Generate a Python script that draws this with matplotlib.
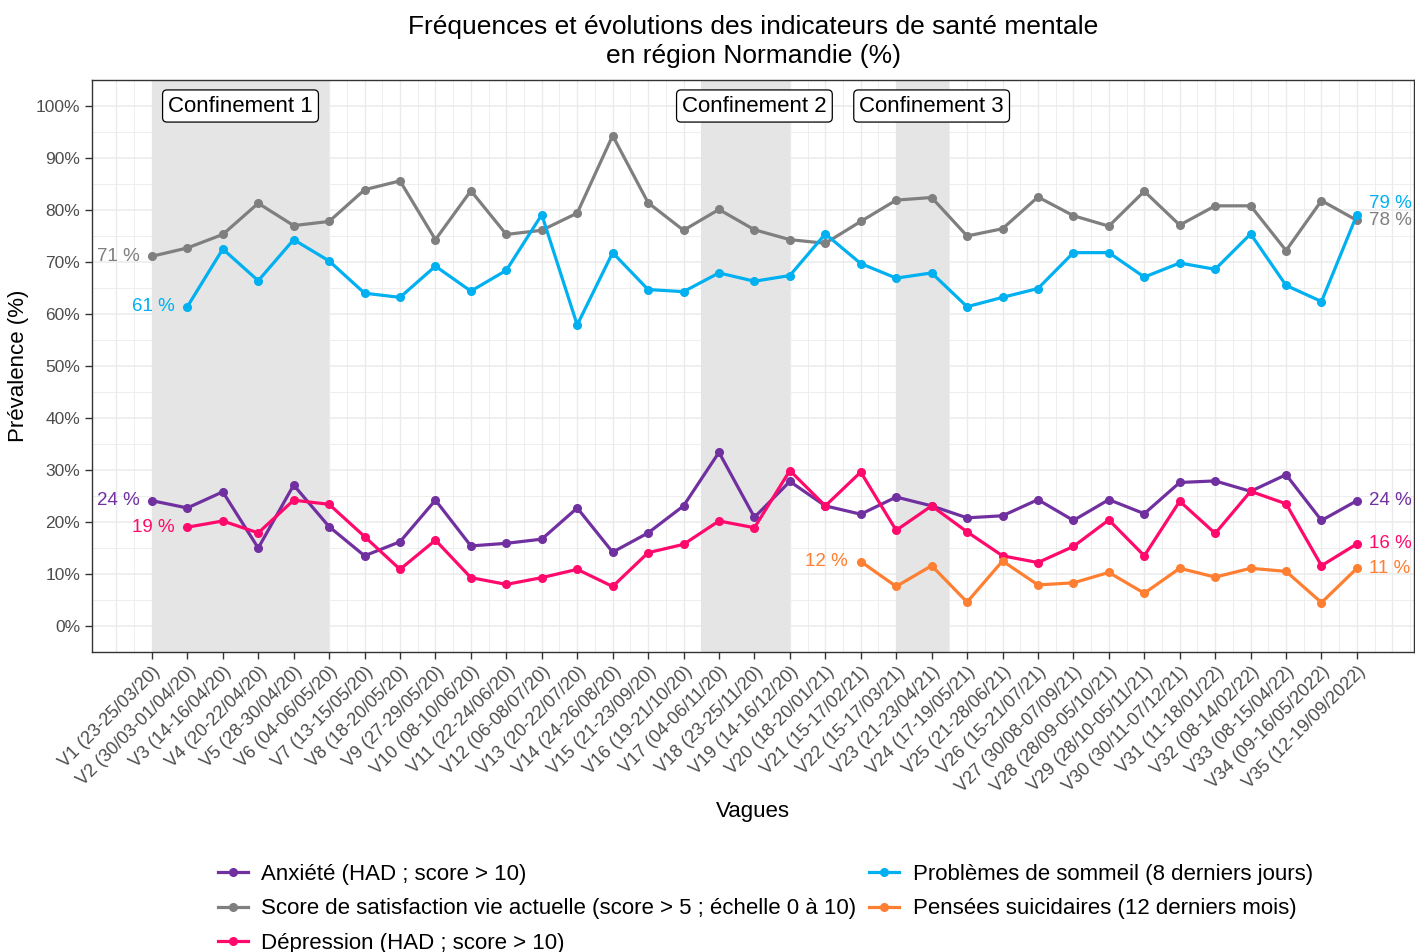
import matplotlib
matplotlib.use("Agg")
import matplotlib.pyplot as plt
from matplotlib.lines import Line2D
import numpy as np

plt.rcParams['font.family'] = ['Liberation Sans', 'DejaVu Sans']

waves = ["V1 (23-25/03/20)", "V2 (30/03-01/04/20)", "V3 (14-16/04/20)", "V4 (20-22/04/20)",
         "V5 (28-30/04/20)", "V6 (04-06/05/20)", "V7 (13-15/05/20)", "V8 (18-20/05/20)",
         "V9 (27-29/05/20)", "V10 (08-10/06/20)", "V11 (22-24/06/20)", "V12 (06-08/07/20)",
         "V13 (20-22/07/20)", "V14 (24-26/08/20)", "V15 (21-23/09/20)", "V16 (19-21/10/20)",
         "V17 (04-06/11/20)", "V18 (23-25/11/20)", "V19 (14-16/12/20)", "V20 (18-20/01/21)",
         "V21 (15-17/02/21)", "V22 (15-17/03/21)", "V23 (21-23/04/21)", "V24 (17-19/05/21)",
         "V25 (21-28/06/21)", "V26 (15-21/07/21)", "V27 (30/08-07/09/21)", "V28 (28/09-05/10/21)",
         "V29 (28/10-05/11/21)", "V30 (30/11-07/12/21)", "V31 (11-18/01/22)", "V32 (08-14/02/22)",
         "V33 (08-15/04/22)", "V34 (09-16/05/2022)", "V35 (12-19/09/2022)"]

nan = np.nan
anxiete = [24.1, 22.7, 25.8, 15.0, 27.1, 19.1, 13.5, 16.2, 24.2, 15.4, 15.9, 16.7,
           22.7, 14.2, 17.9, 23.1, 33.4, 20.9, 27.8, 23.1, 21.5, 24.8, 23.1, 20.8,
           21.2, 24.3, 20.3, 24.3, 21.6, 27.6, 27.9, 25.9, 29.1, 20.3, 24.1]
satisfaction = [71.1, 72.7, 75.3, 81.3, 77.0, 77.8, 83.9, 85.6, 74.3, 83.7, 75.3, 76.1,
                79.4, 94.3, 81.4, 76.1, 80.1, 76.2, 74.3, 73.6, 77.8, 81.9, 82.4, 75.0,
                76.4, 82.5, 78.9, 76.9, 83.6, 77.1, 80.8, 80.8, 72.2, 81.8, 78.0]
depression = [nan, 19.0, 20.2, 17.9, 24.2, 23.4, 17.2, 10.9, 16.5, 9.3, 8.0, 9.3,
              10.9, 7.6, 14.1, 15.7, 20.2, 18.9, 29.9, 23.1, 29.6, 18.4, 23.1, 18.1,
              13.5, 12.2, 15.3, 20.4, 13.5, 24.0, 17.8, 25.9, 23.5, 11.6, 15.8]
sommeil = [nan, 61.4, 72.5, 66.4, 74.3, 70.2, 64.0, 63.2, 69.2, 64.4, 68.4, 79.1,
           57.9, 71.8, 64.7, 64.3, 67.9, 66.3, 67.4, 75.4, 69.7, 66.9, 67.9, 61.4,
           63.2, 64.9, 71.8, 71.8, 67.1, 69.8, 68.6, 75.4, 65.5, 62.4, 79.1]
suicidaires = [nan] * 20 + [12.4, 7.6, 11.6, 4.6, 12.5, 7.9, 8.3, 10.3, 6.3, 11.1,
                            9.4, 11.1, 10.5, 4.5, 11.1]

series_names = ["Anxiété (HAD ; score > 10)",
                "Score de satisfaction vie actuelle (score > 5 ; échelle 0 à 10)",
                "Dépression (HAD ; score > 10)",
                "Problèmes de sommeil (8 derniers jours)",
                "Pensées suicidaires (12 derniers mois)"]
series_values = [anxiete, satisfaction, depression, sommeil, suicidaires]
series_colors = ["#7030A0", "#7F7F7F", "#FF0A6C", "#00B0F0", "#FF7F32"]

confinements = ["Confinement 1", "Confinement 2", "Confinement 3"]
conf_start = [1, 16.5, 22]
conf_end = [6, 19, 23.5]
conf_label_x = [3.5, 18, 23]

title_lines = ["Fréquences et évolutions des indicateurs de santé mentale",
               "en région Normandie (%)"]

W, H = 1415, 952
fig = plt.figure(figsize=(W / 100, H / 100), dpi=100)
ax = fig.add_axes([92/W, 1-652/H, (1414-92)/W, (652-80)/H])

x = np.arange(1, len(waves) + 1)

ax.set_xlim(-0.69, 36.61)
ax.set_ylim(-5, 105)

# grid
for gx in np.arange(0, 37, 0.5):
    ax.axvline(gx, color="#EBEBEB", lw=1.0 if gx % 1 == 0 else 0.6, zorder=0)
for gy in np.arange(0, 101, 5):
    ax.axhline(gy, color="#EBEBEB", lw=1.1 if gy % 10 == 0 else 0.6, zorder=0)

for s, e in zip(conf_start, conf_end):
    ax.axvspan(s, e, color="#E5E5E5", lw=0, zorder=1)

for name, vals, col in zip(series_names, series_values, series_colors):
    ax.plot(x, vals, color=col, lw=2.3, marker="o", ms=5.5, label=name, zorder=3)

# value labels first / last
for vals, col in zip(series_values, series_colors):
    arr = np.array(vals, dtype=float)
    idx = np.where(~np.isnan(arr))[0]
    i0, i1 = idx[0], idx[-1]
    ax.annotate(f"{round(arr[i0]):.0f} %", (x[i0], arr[i0]), xytext=(-9, 0),
                textcoords="offset points", ha="right", va="center", color=col, fontsize=13.5)
    dy = 8 if col == "#00B0F0" else 0
    ax.annotate(f"{round(arr[i1]):.0f} %", (x[i1], arr[i1]), xytext=(9, dy),
                textcoords="offset points", ha="left", va="center", color=col, fontsize=13.5)

for lab, lx in zip(confinements, conf_label_x):
    ax.text(lx, 100, lab, ha="center", va="center", fontsize=16, zorder=5,
            bbox=dict(boxstyle="round,pad=0.25,rounding_size=0.2", fc="white", ec="black", lw=0.9))

ax.set_xticks(x)
ax.set_xticklabels(waves, rotation=45, ha="right", va="top", rotation_mode="anchor",
                   fontsize=13, color="#4D4D4D")
ax.set_yticks(np.arange(0, 101, 10))
ax.set_yticklabels([f"{v}%" for v in range(0, 101, 10)], fontsize=12.5, color="#4D4D4D")
ax.tick_params(axis="both", length=5, width=1, color="#333333", direction="out")
ax.tick_params(axis="x", pad=3)

for sp in ax.spines.values():
    sp.set_color("#333333")
    sp.set_linewidth(1.0)

ax.set_xlabel("Vagues", fontsize=16, labelpad=4)
ax.set_ylabel("Prévalence (%)", fontsize=16, labelpad=4.5)

cx = ((92 + 1414) / 2) / W
fig.text(cx, 1 - 27/H, title_lines[0], ha="center", va="center", fontsize=19)
fig.text(cx, 1 - 56/H, title_lines[1], ha="center", va="center", fontsize=19)

handles = [Line2D([0], [0], color=c, lw=2.3, marker="o", ms=5.5) for c in series_colors]
fig.legend(handles, series_names, ncol=2, loc="upper left",
           bbox_to_anchor=(218/W, 1-864/H), frameon=False, fontsize=16,
           handlelength=1.35, handletextpad=0.6, columnspacing=0.58, labelspacing=0.6,
           borderaxespad=0, borderpad=0)

fig.savefig("out.png", dpi=100)
